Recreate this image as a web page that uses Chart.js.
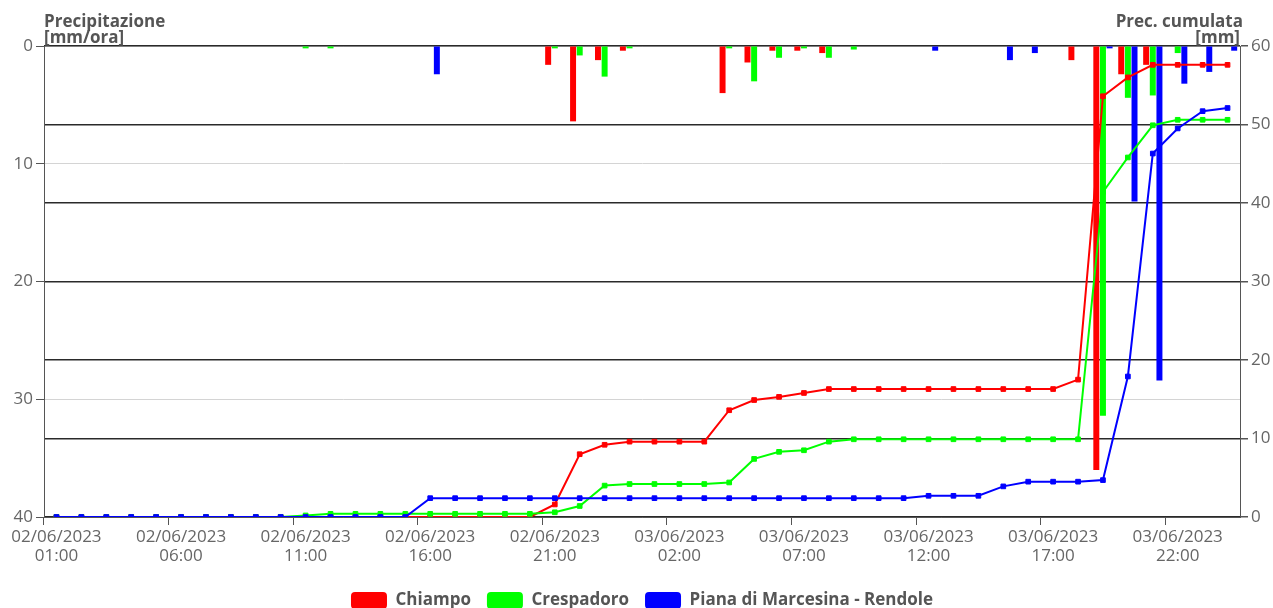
<!DOCTYPE html>
<html>
<head>
<meta charset="utf-8">
<script src="https://cdn.jsdelivr.net/npm/chart.js@4.4.1/dist/chart.umd.min.js"></script>
<style>
  html, body { margin: 0; padding: 0; background: #fff; }
</style>
</head>
<body>
<canvas id="rainChart" width="1273" height="608"></canvas>
<script>
const timeLabels = [
  "02/06/2023 01:00", "02/06/2023 02:00", "02/06/2023 03:00", "02/06/2023 04:00",
  "02/06/2023 05:00", "02/06/2023 06:00", "02/06/2023 07:00", "02/06/2023 08:00",
  "02/06/2023 09:00", "02/06/2023 10:00", "02/06/2023 11:00", "02/06/2023 12:00",
  "02/06/2023 13:00", "02/06/2023 14:00", "02/06/2023 15:00", "02/06/2023 16:00",
  "02/06/2023 17:00", "02/06/2023 18:00", "02/06/2023 19:00", "02/06/2023 20:00",
  "02/06/2023 21:00", "02/06/2023 22:00", "02/06/2023 23:00", "03/06/2023 00:00",
  "03/06/2023 01:00", "03/06/2023 02:00", "03/06/2023 03:00", "03/06/2023 04:00",
  "03/06/2023 05:00", "03/06/2023 06:00", "03/06/2023 07:00", "03/06/2023 08:00",
  "03/06/2023 09:00", "03/06/2023 10:00", "03/06/2023 11:00", "03/06/2023 12:00",
  "03/06/2023 13:00", "03/06/2023 14:00", "03/06/2023 15:00", "03/06/2023 16:00",
  "03/06/2023 17:00", "03/06/2023 18:00", "03/06/2023 19:00", "03/06/2023 20:00",
  "03/06/2023 21:00", "03/06/2023 22:00", "03/06/2023 23:00", "04/06/2023 00:00"
];

// hourly rain [mm/ora]
const chiampoHourly = [
  0, 0, 0, 0, 0, 0, 0, 0, 0, 0, 0, 0, 0, 0, 0, 0, 0, 0, 0, 0,
  1.6, 6.4, 1.2, 0.4, 0, 0, 0, 4.0, 1.4, 0.4, 0.4, 0.6,
  0, 0, 0, 0, 0, 0, 0, 0, 0, 1.2, 36.0, 2.4, 1.6, 0, 0, 0
];
const crespadoroHourly = [
  0, 0, 0, 0, 0, 0, 0, 0, 0, 0, 0.2, 0.2, 0, 0, 0, 0, 0, 0, 0, 0,
  0.2, 0.8, 2.6, 0.2, 0, 0, 0, 0.2, 3.0, 1.0, 0.2, 1.0,
  0.3, 0, 0, 0, 0, 0, 0, 0, 0, 0, 31.4, 4.4, 4.2, 0.6, 0, 0
];
const marcesinaHourly = [
  0, 0, 0, 0, 0, 0, 0, 0, 0, 0, 0, 0, 0, 0, 0, 2.4, 0, 0, 0, 0,
  0, 0, 0, 0, 0, 0, 0, 0, 0, 0, 0, 0,
  0, 0, 0, 0.4, 0, 0, 1.2, 0.6, 0, 0, 0.2, 13.2, 28.4, 3.2, 2.2, 0.4
];

// cumulative rain [mm]
const chiampoCumul = [
  0, 0, 0, 0, 0, 0, 0, 0, 0, 0, 0, 0, 0, 0, 0, 0, 0, 0, 0, 0,
  1.6, 8.0, 9.2, 9.6, 9.6, 9.6, 9.6, 13.6, 14.9, 15.3, 15.8, 16.3,
  16.3, 16.3, 16.3, 16.3, 16.3, 16.3, 16.3, 16.3, 16.3, 17.5, 53.6, 56.0, 57.6, 57.6, 57.6, 57.6
];
const crespadoroCumul = [
  0, 0, 0, 0, 0, 0, 0, 0, 0, 0, 0.2, 0.4, 0.4, 0.4, 0.4, 0.4, 0.4, 0.4, 0.4, 0.4,
  0.6, 1.4, 4.0, 4.2, 4.2, 4.2, 4.2, 4.4, 7.4, 8.3, 8.5, 9.6,
  9.9, 9.9, 9.9, 9.9, 9.9, 9.9, 9.9, 9.9, 9.9, 9.9, 41.4, 45.8, 49.9, 50.6, 50.6, 50.6
];
const marcesinaCumul = [
  0, 0, 0, 0, 0, 0, 0, 0, 0, 0, 0, 0, 0, 0, 0, 2.4, 2.4, 2.4, 2.4, 2.4,
  2.4, 2.4, 2.4, 2.4, 2.4, 2.4, 2.4, 2.4, 2.4, 2.4, 2.4, 2.4,
  2.4, 2.4, 2.4, 2.7, 2.7, 2.7, 3.9, 4.5, 4.5, 4.5, 4.7, 17.9, 46.3, 49.5, 51.7, 52.1
];

const stationNames = ["Chiampo", "Crespadoro", "Piana di Marcesina - Rendole"];
const stationColors = ["#ff0000", "#00ff00", "#0000ff"];

const FONT = "'Open Sans', 'Noto Sans', sans-serif";
Chart.defaults.font.family = FONT;
Chart.defaults.font.size = 17;
Chart.defaults.color = "#666";

// horizontal axis titles above the plot
const axisTitles = {
  id: "axisTitles",
  afterDraw(chart) {
    const { ctx, chartArea } = chart;
    ctx.save();
    ctx.font = "bold 17px " + FONT;
    ctx.fillStyle = "#555";
    ctx.textAlign = "left";
    ctx.fillText("Precipitazione", chartArea.left, chartArea.top - 24);
    ctx.fillText("[mm/ora]", chartArea.left, chartArea.top - 8);
    ctx.textAlign = "right";
    ctx.fillText("Prec. cumulata", chartArea.right + 3, chartArea.top - 24);
    ctx.fillText("[mm]", chartArea.right, chartArea.top - 8);
    ctx.restore();
  }
};

function barSet(i, data) {
  return {
    type: "bar",
    label: stationNames[i],
    data: data,
    backgroundColor: stationColors[i],
    borderWidth: 0,
    yAxisID: "y",
    order: 5
  };
}

function lineSet(i, data, order) {
  return {
    type: "line",
    label: stationNames[i] + " cumulata",
    data: data,
    borderColor: stationColors[i],
    backgroundColor: stationColors[i],
    borderWidth: 2,
    pointStyle: "rect",
    pointRadius: 3.3,
    pointBorderWidth: 1,
    tension: 0,
    yAxisID: "y1",
    order: order
  };
}

const ctx = document.getElementById("rainChart").getContext("2d");
new Chart(ctx, {
  type: "bar",
  data: {
    labels: timeLabels,
    datasets: [
      barSet(0, chiampoHourly),
      barSet(1, crespadoroHourly),
      barSet(2, marcesinaHourly),
      lineSet(0, chiampoCumul, 3),
      lineSet(1, crespadoroCumul, 2),
      lineSet(2, marcesinaCumul, 1)
    ]
  },
  options: {
    responsive: false,
    animation: false,
    layout: { padding: { top: 46, left: 0, right: 0, bottom: -11 } },
    plugins: {
      legend: {
        position: "bottom",
        fullSize: false,
        labels: {
          filter: (item) => item.datasetIndex < 3,
          boxWidth: 36,
          boxHeight: 17,
          useBorderRadius: true,
          borderRadius: 4,
          padding: 16,
          color: "#555",
          font: { size: 17, weight: "bold" }
        }
      },
      tooltip: { enabled: false }
    },
    scales: {
      x: {
        grid: {
          drawOnChartArea: false,
          tickLength: 8,
          tickColor: (c) => (c.index % 5 === 0 ? "#555" : "rgba(0,0,0,0)")
        },
        border: { color: "#555" },
        ticks: {
          autoSkip: false,
          maxRotation: 0,
          minRotation: 0,
          padding: 3,
          font: { size: 17, lineHeight: 1.1 },
          callback: (v, i) => (i % 5 === 0 ? timeLabels[i].split(" ") : "")
        },
        afterFit: (s) => { s.height = 59; }
      },
      y: {
        position: "left",
        reverse: true,
        min: 0,
        max: 40,
        ticks: { stepSize: 10, padding: 3 },
        grid: { color: "#d4d4d4", tickColor: "#555", tickLength: 8 },
        border: { color: "#555" },
        afterFit: (s) => { s.width = 44; }
      },
      y1: {
        position: "right",
        min: 0,
        max: 60,
        ticks: { stepSize: 10, padding: 3 },
        grid: { color: "#2a2a2a", lineWidth: 1.5, tickColor: "#555", tickLength: 8 },
        border: { color: "#555" },
        afterFit: (s) => { s.width = 33; }
      }
    }
  },
  plugins: [axisTitles]
});
</script>
</body>
</html>
